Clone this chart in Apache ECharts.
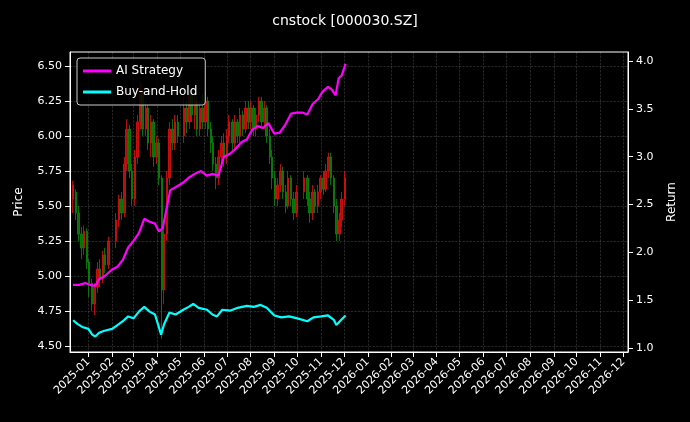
<!DOCTYPE html>
<html>
<head>
<meta charset="utf-8">
<script src="https://cdn.jsdelivr.net/npm/echarts@6/dist/echarts.min.js"></script>
<style>html,body{margin:0;background:#000;}#main{width:690px;height:422px;}</style>
</head>
<body>
<div id="main"></div>
<script>
// date, open, close, low, high
var candles = [
['2024-12-12',5.55,5.65,5.45,5.68],['2024-12-16',5.60,5.45,5.40,5.62],['2024-12-19',5.45,5.30,5.25,5.50],
['2024-12-23',5.30,5.20,5.12,5.35],['2024-12-26',5.20,5.32,5.15,5.36],['2024-12-30',5.32,5.10,5.05,5.34],
['2025-01-02',5.10,4.95,4.85,5.12],['2025-01-06',4.95,4.80,4.75,4.98],['2025-01-09',4.80,4.92,4.72,4.95],
['2025-01-13',4.92,5.05,4.88,5.10],['2025-01-16',5.05,4.98,4.92,5.12],['2025-01-20',4.98,5.15,4.95,5.18],
['2025-01-23',5.15,5.08,5.02,5.20],['2025-01-27',5.08,5.25,5.05,5.28],['2025-02-06',5.25,5.40,5.20,5.45],
['2025-02-10',5.40,5.55,5.35,5.58],['2025-02-13',5.55,5.45,5.40,5.60],['2025-02-17',5.45,5.80,5.42,5.85],
['2025-02-20',5.80,6.05,5.75,6.12],['2025-02-24',6.05,5.75,5.70,6.08],['2025-02-27',5.75,5.55,5.50,5.80],
['2025-03-03',5.55,5.85,5.50,5.90],['2025-03-06',5.85,6.10,5.80,6.15],['2025-03-10',6.10,6.30,6.05,6.38],
['2025-03-13',6.30,6.05,6.00,6.32],['2025-03-17',6.05,6.20,6.00,6.25],['2025-03-20',6.20,5.95,5.90,6.22],
['2025-03-24',5.95,6.10,5.85,6.15],['2025-03-27',6.10,5.85,5.78,6.12],['2025-03-31',5.85,5.95,5.80,6.00],
['2025-04-03',5.95,5.70,5.65,5.98],['2025-04-07',5.70,4.90,4.55,5.72],['2025-04-10',4.90,5.30,4.80,5.35],
['2025-04-14',5.30,5.70,5.25,5.75],['2025-04-17',5.70,6.05,5.65,6.10],['2025-04-21',6.05,5.95,5.90,6.12],
['2025-04-24',5.95,6.10,5.90,6.15],['2025-04-28',6.10,6.00,5.95,6.15],['2025-05-06',6.00,6.20,5.95,6.28],
['2025-05-09',6.20,6.10,6.02,6.25],['2025-05-13',6.10,6.30,6.05,6.35],['2025-05-16',6.30,6.15,6.10,6.32],
['2025-05-20',6.15,6.25,6.05,6.30],['2025-05-23',6.25,6.05,6.00,6.28],['2025-05-27',6.05,6.20,6.00,6.25],
['2025-05-30',6.20,6.10,6.05,6.30],['2025-06-03',6.10,6.25,6.05,6.32],['2025-06-06',6.25,6.05,6.00,6.28],
['2025-06-10',6.05,5.95,5.88,6.10],['2025-06-13',5.95,5.80,5.75,6.00],['2025-06-17',5.80,5.70,5.62,5.85],
['2025-06-20',5.70,5.85,5.65,5.90],['2025-06-24',5.85,5.95,5.80,6.00],['2025-06-27',5.95,5.85,5.78,6.02],
['2025-07-01',5.85,6.00,5.80,6.05],['2025-07-04',6.00,6.10,5.95,6.15],['2025-07-08',6.10,5.95,5.90,6.12],
['2025-07-11',5.95,6.10,5.90,6.15],['2025-07-15',6.10,6.00,5.95,6.12],['2025-07-18',6.00,6.15,5.95,6.20],
['2025-07-22',6.15,6.05,6.00,6.18],['2025-07-25',6.05,6.20,6.02,6.25],['2025-07-29',6.20,6.10,6.05,6.25],
['2025-08-01',6.10,6.20,6.05,6.25],['2025-08-05',6.20,6.05,6.00,6.22],['2025-08-08',6.05,6.15,6.00,6.20],
['2025-08-12',6.15,6.25,6.10,6.28],['2025-08-15',6.25,6.10,6.05,6.28],['2025-08-19',6.10,6.20,6.05,6.25],
['2025-08-22',6.20,6.00,5.95,6.22],['2025-08-26',6.00,5.85,5.80,6.05],['2025-08-29',5.85,5.70,5.62,5.90],
['2025-09-02',5.70,5.55,5.50,5.75],['2025-09-05',5.55,5.65,5.50,5.70],['2025-09-09',5.65,5.75,5.60,5.80],
['2025-09-12',5.75,5.60,5.55,5.78],['2025-09-16',5.60,5.50,5.45,5.65],['2025-09-19',5.50,5.70,5.48,5.75],
['2025-09-23',5.70,5.55,5.50,5.72],['2025-09-26',5.55,5.45,5.40,5.60],['2025-09-30',5.45,5.60,5.42,5.65],
['2025-10-10',5.60,5.70,5.55,5.75],['2025-10-14',5.70,5.55,5.50,5.72],['2025-10-17',5.55,5.45,5.38,5.60],
['2025-10-21',5.45,5.60,5.40,5.65],['2025-10-24',5.60,5.50,5.45,5.62],['2025-10-28',5.50,5.60,5.45,5.65],
['2025-10-31',5.60,5.70,5.55,5.72],['2025-11-04',5.70,5.62,5.58,5.75],['2025-11-07',5.62,5.75,5.60,5.80],
['2025-11-11',5.75,5.85,5.70,5.88],['2025-11-14',5.85,5.70,5.65,5.88],['2025-11-18',5.70,5.50,5.45,5.72],
['2025-11-21',5.50,5.30,5.25,5.55],['2025-11-25',5.30,5.40,5.25,5.45],['2025-11-28',5.40,5.55,5.35,5.60],
['2025-12-02',5.55,5.70,5.50,5.75]
];
var aiStrategy = [
['2024-12-12',1.66],['2024-12-20',1.66],['2024-12-28',1.68],['2025-01-03',1.66],['2025-01-10',1.65],
['2025-01-15',1.72],['2025-01-22',1.75],['2025-02-01',1.82],['2025-02-08',1.85],['2025-02-15',1.92],
['2025-02-22',2.05],['2025-03-01',2.12],['2025-03-08',2.20],['2025-03-15',2.35],['2025-03-22',2.32],
['2025-03-29',2.30],['2025-04-03',2.22],['2025-04-08',2.25],['2025-04-13',2.45],['2025-04-18',2.65],
['2025-04-25',2.68],['2025-05-05',2.73],['2025-05-12',2.78],['2025-05-20',2.82],['2025-05-28',2.85],
['2025-06-05',2.80],['2025-06-12',2.82],['2025-06-20',2.80],['2025-06-27',3.00],['2025-07-05',3.03],
['2025-07-12',3.08],['2025-07-20',3.15],['2025-07-27',3.18],['2025-08-03',3.28],['2025-08-10',3.32],
['2025-08-17',3.30],['2025-08-24',3.35],['2025-09-01',3.24],['2025-09-08',3.25],['2025-09-15',3.33],
['2025-09-23',3.45],['2025-09-30',3.46],['2025-10-08',3.46],['2025-10-14',3.44],['2025-10-21',3.55],
['2025-10-28',3.60],['2025-11-03',3.68],['2025-11-10',3.73],['2025-11-15',3.70],['2025-11-20',3.64],
['2025-11-24',3.82],['2025-11-28',3.85],['2025-12-03',3.97]
];
var buyHold = [
['2024-12-12',1.29],['2024-12-18',1.25],['2024-12-24',1.22],['2025-01-01',1.20],['2025-01-06',1.14],
['2025-01-10',1.12],['2025-01-15',1.16],['2025-01-22',1.18],['2025-02-01',1.20],['2025-02-08',1.24],
['2025-02-15',1.28],['2025-02-22',1.33],['2025-03-01',1.31],['2025-03-08',1.38],['2025-03-15',1.43],
['2025-03-22',1.38],['2025-03-29',1.35],['2025-04-03',1.22],['2025-04-06',1.14],['2025-04-10',1.25],
['2025-04-17',1.37],['2025-04-25',1.35],['2025-05-05',1.40],['2025-05-12',1.43],['2025-05-18',1.46],
['2025-05-25',1.42],['2025-06-05',1.40],['2025-06-12',1.35],['2025-06-18',1.33],['2025-06-25',1.40],
['2025-07-05',1.39],['2025-07-15',1.42],['2025-07-27',1.44],['2025-08-05',1.43],['2025-08-14',1.45],
['2025-08-22',1.42],['2025-09-01',1.34],['2025-09-10',1.32],['2025-09-20',1.33],['2025-10-01',1.31],
['2025-10-14',1.28],['2025-10-22',1.32],['2025-11-01',1.33],['2025-11-10',1.34],['2025-11-18',1.29],
['2025-11-21',1.24],['2025-11-28',1.30],['2025-12-03',1.34]
];
var monthLabels = [];
for (var y = 2025; y <= 2026; y++) for (var m = 1; m <= 12; m++) monthLabels.push(y + '-' + String(m).padStart(2, '0'));
var priceTicks = [4.5, 4.75, 5.0, 5.25, 5.5, 5.75, 6.0, 6.25, 6.5];
var returnTicks = [1.0, 1.5, 2.0, 2.5, 3.0, 3.5, 4.0];

function ts(s) { var p = s.split('-'); return Date.UTC(+p[0], +p[1] - 1, +p[2] || 1); }
var monthTicks = monthLabels.map(ts);

var myChart = echarts.init(document.getElementById('main'));
var font = 'DejaVu Sans';
var grid = {type: 'dashed', color: 'rgba(255,255,255,0.25)', width: 0.6};
option = {
    backgroundColor: '#000',
    animation: false,
    textStyle: {fontFamily: font},
    title: {text: 'cnstock [000030.SZ]', left: 'center', top: 9,
        textStyle: {color: '#fff', fontSize: 14, fontWeight: 'normal', fontFamily: font}},
    grid: {left: 70, right: 62, top: 52, bottom: 70, show: true, borderColor: '#fff', borderWidth: 1},
    legend: {
        left: 77, top: 58, orient: 'vertical', itemGap: 9, itemWidth: 28, itemHeight: 3,
        backgroundColor: 'rgba(0,0,0,0.8)', borderColor: '#ccc', borderWidth: 1, borderRadius: 3,
        padding: [7, 8, 7, 6],
        textStyle: {color: '#fff', fontSize: 12, fontFamily: font},
        data: [{name: 'AI Strategy', icon: 'rect'}, {name: 'Buy-and-Hold', icon: 'rect'}]
    },
    xAxis: {
        type: 'value', min: ts('2024-12-08'), max: ts('2026-12-07'),
        axisLine: {show: true, lineStyle: {color: '#fff'}},
        axisTick: {show: true, customValues: monthTicks, lineStyle: {color: '#fff'}},
        axisLabel: {customValues: monthTicks, rotate: 45, color: '#fff', fontSize: 11, fontFamily: font,
            formatter: function (v) { var d = new Date(v); return d.getUTCFullYear() + '-' + String(d.getUTCMonth() + 1).padStart(2, '0'); }},
        splitLine: {show: true, lineStyle: grid}
    },
    yAxis: [{
        type: 'value', min: 4.457, max: 6.6, name: 'Price', nameLocation: 'middle', nameGap: 45,
        nameTextStyle: {color: '#fff', fontSize: 12, fontFamily: font},
        axisLine: {show: true, lineStyle: {color: '#fff'}},
        axisTick: {show: true, customValues: priceTicks, lineStyle: {color: '#fff'}},
        axisLabel: {customValues: priceTicks, color: '#fff', fontSize: 11, fontFamily: font,
            formatter: function (v) { return v.toFixed(2); }},
        splitLine: {show: true, lineStyle: grid}
    }, {
        type: 'value', min: 0.958, max: 4.094, name: 'Return', nameLocation: 'middle', nameGap: 38,
        nameTextStyle: {color: '#fff', fontSize: 12, fontFamily: font},
        axisLine: {show: true, lineStyle: {color: '#fff'}},
        axisTick: {show: true, customValues: returnTicks, lineStyle: {color: '#fff'}},
        axisLabel: {customValues: returnTicks, color: '#fff', fontSize: 11, fontFamily: font,
            formatter: function (v) { return v.toFixed(1); }},
        splitLine: {show: false}
    }],
    series: [{
        type: 'candlestick', name: 'Price', yAxisIndex: 0, barWidth: 2,
        itemStyle: {color: '#e01010', color0: '#0a8a0a', borderColor: '#e01010', borderColor0: '#0a8a0a', opacity: 0.8, borderWidth: 1},
        data: candles.map(function (c) { return [ts(c[0]), c[1], c[2], c[3], c[4]]; })
    }, {
        type: 'line', name: 'AI Strategy', yAxisIndex: 1, showSymbol: false,
        data: aiStrategy.map(function (p) { return [ts(p[0]), p[1]]; }),
        lineStyle: {color: '#ff00ff', width: 2.2}, itemStyle: {color: '#ff00ff'}
    }, {
        type: 'line', name: 'Buy-and-Hold', yAxisIndex: 1, showSymbol: false,
        data: buyHold.map(function (p) { return [ts(p[0]), p[1]]; }),
        lineStyle: {color: '#00ffff', width: 2.2}, itemStyle: {color: '#00ffff'}
    }]
};
myChart.setOption(option);
window.addEventListener('resize', function () { myChart.resize(); });
</script>
</body>
</html>
